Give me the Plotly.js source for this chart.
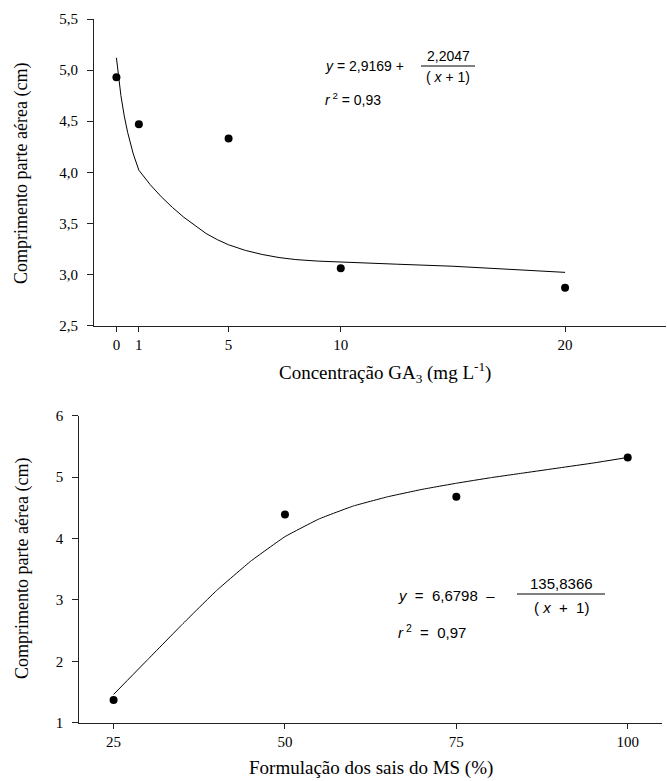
<!DOCTYPE html>
<html><head><meta charset="utf-8">
<script src="https://cdn.plot.ly/plotly-3.0.1.min.js"></script>
<style>html,body{margin:0;padding:0;background:#fff}</style>
</head><body><div id="chart" style="width:667px;height:781px"></div>
<script>
// ---- Data: top panel (GA3 concentration) ----
const ga3Conc = [0, 1, 5, 10, 20];
const ga3Length = [4.93, 4.47, 4.33, 3.06, 2.87];
const ga3FitX = [0, 0.1, 0.2, 0.35, 0.5, 0.75, 1, 1.5, 2, 2.5, 3, 3.5, 4, 4.5, 5, 5.75, 6.5, 7.25, 8, 9, 10, 12.5, 15, 17.5, 20];
const ga3FitY = [5.12, 4.92, 4.75, 4.55, 4.39, 4.18, 4.02, 3.88, 3.76, 3.655, 3.56, 3.48, 3.40, 3.34, 3.29, 3.235, 3.195, 3.165, 3.145, 3.13, 3.12, 3.10, 3.08, 3.05, 3.02];
const ga3XTickVals = [0, 1, 5, 10, 20];
const ga3XTickText = ['0', '1', '5', '10', '20'];
const ga3YTickVals = [2.5, 3.0, 3.5, 4.0, 4.5, 5.0, 5.5];
const ga3YTickText = ['2,5', '3,0', '3,5', '4,0', '4,5', '5,0', '5,5'];

// ---- Data: bottom panel (MS salts formulation) ----
const msPct = [25, 50, 75, 100];
const msLength = [1.37, 4.39, 4.68, 5.32];
const msFitX = [25, 30, 35, 40, 45, 50, 55, 60, 65, 70, 75, 80, 85, 90, 95, 100];
const msFitY = [1.46, 2.03, 2.60, 3.15, 3.63, 4.03, 4.32, 4.53, 4.68, 4.80, 4.90, 4.99, 5.07, 5.15, 5.23, 5.32];
const msXTickVals = [25, 50, 75, 100];
const msXTickText = ['25', '50', '75', '100'];
const msYTickVals = [1, 2, 3, 4, 5, 6];
const msYTickText = ['1', '2', '3', '4', '5', '6'];

const W = 667, H = 781;
const px = v => v / W;
const py = v => 1 - v / H;

const serif = '"Liberation Serif", "Times New Roman", serif';
const sans = '"Liberation Sans", Arial, sans-serif';
const ink = '#000';

const traces = [
  {x: ga3FitX, y: ga3FitY, xaxis: 'x', yaxis: 'y', mode: 'lines', type: 'scatter',
   line: {color: ink, width: 1, shape: 'linear'}, hoverinfo: 'skip'},
  {x: ga3Conc, y: ga3Length, xaxis: 'x', yaxis: 'y', mode: 'markers', type: 'scatter',
   marker: {color: ink, size: 8, symbol: 'circle'}},
  {x: msFitX, y: msFitY, xaxis: 'x2', yaxis: 'y2', mode: 'lines', type: 'scatter',
   line: {color: ink, width: 1, shape: 'spline', smoothing: 0.3}, hoverinfo: 'skip'},
  {x: msPct, y: msLength, xaxis: 'x2', yaxis: 'y2', mode: 'markers', type: 'scatter',
   marker: {color: ink, size: 8, symbol: 'circle'}}
];

const axisBase = {
  showgrid: false, zeroline: false, showline: true, linecolor: '#222', linewidth: 1,
  ticks: 'outside', ticklen: 6, tickwidth: 1, tickcolor: '#222',
  tickfont: {family: serif, size: 15, color: ink}, tickmode: 'array', fixedrange: true
};

const layout = {
  width: W, height: H,
  margin: {l: 0, r: 0, t: 0, b: 0},
  paper_bgcolor: '#fff', plot_bgcolor: '#fff',
  showlegend: false,
  xaxis: Object.assign({}, axisBase, {domain: [px(94), px(666)], range: [-1, 24.5],
    tickvals: ga3XTickVals, ticktext: ga3XTickText, anchor: 'y', ticklen: 5}),
  yaxis: Object.assign({}, axisBase, {domain: [py(325.5), py(19)], range: [2.5, 5.5],
    tickvals: ga3YTickVals, ticktext: ga3YTickText, anchor: 'x', ticklabelstandoff: 6}),
  xaxis2: Object.assign({}, axisBase, {domain: [px(79.3), px(662)], range: [20, 105],
    tickvals: msXTickVals, ticktext: msXTickText, anchor: 'y2', ticklen: 5}),
  yaxis2: Object.assign({}, axisBase, {domain: [py(722.7), py(415.7)], range: [1, 6],
    tickvals: msYTickVals, ticktext: msYTickText, anchor: 'x2', ticklabelstandoff: 6}),
  shapes: [
    {type: 'line', xref: 'paper', yref: 'paper', x0: px(421), x1: px(475), y0: py(66), y1: py(66),
     line: {color: ink, width: 1}},
    {type: 'line', xref: 'paper', yref: 'paper', x0: px(517), x1: px(605), y0: py(594), y1: py(594),
     line: {color: ink, width: 1}}
  ],
  annotations: [
    // axis titles
    {text: 'Comprimento parte aérea (cm)', xref: 'paper', yref: 'paper', x: px(22), y: py(174),
     textangle: -90, showarrow: false, xanchor: 'center', yanchor: 'middle',
     font: {family: serif, size: 18, color: ink}},
    {text: 'Comprimento parte aérea (cm)', xref: 'paper', yref: 'paper', x: px(22), y: py(569),
     textangle: -90, showarrow: false, xanchor: 'center', yanchor: 'middle',
     font: {family: serif, size: 18, color: ink}},
    {text: 'Concentração GA<sub>3</sub> (mg L<sup>-1</sup>)', xref: 'paper', yref: 'paper',
     x: px(385), y: py(372), showarrow: false, xanchor: 'center', yanchor: 'middle',
     font: {family: serif, size: 19, color: ink}},
    {text: 'Formulação dos sais do MS (%)', xref: 'paper', yref: 'paper',
     x: px(371), y: py(768), showarrow: false, xanchor: 'center', yanchor: 'middle',
     font: {family: serif, size: 19, color: ink}},
    // top equation
    {text: '<i>y</i>&nbsp;=&nbsp;2,9169&nbsp;+', xref: 'paper', yref: 'paper', x: px(323), y: py(66),
     showarrow: false, xanchor: 'left', yanchor: 'middle', font: {family: sans, size: 14, color: ink}},
    {text: '2,2047', xref: 'paper', yref: 'paper', x: px(448), y: py(56),
     showarrow: false, xanchor: 'center', yanchor: 'middle', font: {family: sans, size: 14, color: ink}},
    {text: '(&nbsp;<i>x</i>&nbsp;+&nbsp;1)', xref: 'paper', yref: 'paper', x: px(448), y: py(77),
     showarrow: false, xanchor: 'center', yanchor: 'middle', font: {family: sans, size: 14, color: ink}},
    {text: '<i>r</i><sup>&nbsp;2</sup>&nbsp;=&nbsp;0,93', xref: 'paper', yref: 'paper', x: px(323), y: py(99),
     showarrow: false, xanchor: 'left', yanchor: 'middle', font: {family: sans, size: 14, color: ink}},
    // bottom equation
    {text: '<i>y</i>&nbsp;&nbsp;=&nbsp;&nbsp;6,6798&nbsp;&nbsp;–', xref: 'paper', yref: 'paper', x: px(396), y: py(595),
     showarrow: false, xanchor: 'left', yanchor: 'middle', font: {family: sans, size: 15, color: ink}},
    {text: '135,8366', xref: 'paper', yref: 'paper', x: px(561), y: py(583),
     showarrow: false, xanchor: 'center', yanchor: 'middle', font: {family: sans, size: 15, color: ink}},
    {text: '(&nbsp;<i>x</i>&nbsp;&nbsp;+&nbsp;&nbsp;1)', xref: 'paper', yref: 'paper', x: px(561), y: py(607),
     showarrow: false, xanchor: 'center', yanchor: 'middle', font: {family: sans, size: 15, color: ink}},
    {text: '<i>r</i><sup>&nbsp;2</sup>&nbsp;&nbsp;=&nbsp;&nbsp;0,97', xref: 'paper', yref: 'paper', x: px(396), y: py(631),
     showarrow: false, xanchor: 'left', yanchor: 'middle', font: {family: sans, size: 15, color: ink}}
  ]
};

Plotly.newPlot('chart', traces, layout, {displayModeBar: false, staticPlot: true});
</script>
</body></html>
